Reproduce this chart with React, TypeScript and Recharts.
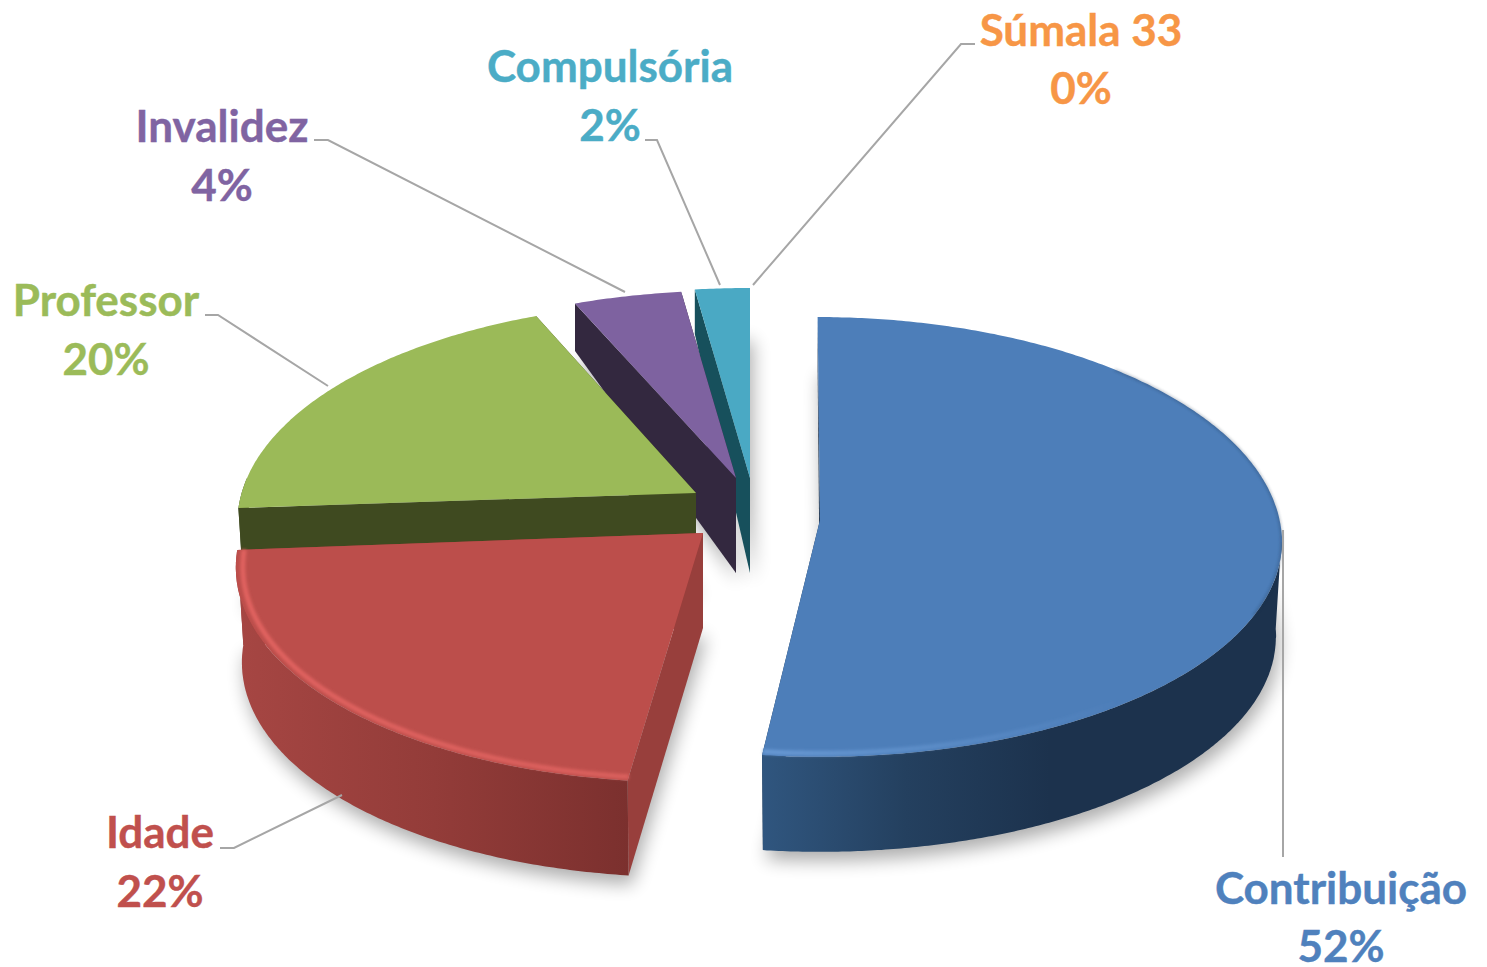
import React from "react";
import { PieChart, Pie } from "recharts";

// ---- data (reversed so far slices paint first; angles run counter-clockwise from the top)
const categories = ["Súmala 33", "Compulsória", "Invalidez", "Professor", "Idade", "Contribuição"];
const shares = [0, 2, 4, 20, 22, 52];
const chartData = categories.map((name, i) => ({ name, value: shares[i] }));

// ---- styles and layout
const W = 1487, H = 967, CX = 750, CY = 500, R = 460;
const RAD = Math.PI / 180;

type Look = {
  ox: number; oy: number; yo: number; rx: number; ryU: number; ryD: number; skU: number; skD: number;
  warpA: number; warpB: number;
  top: string; side: string; wallA: string; wallM: string; wallB: string; text: string;
};
const looks: Record<string, Look> = {
  "Contribuição": { ox: 70, oy: 20, yo: 22, rx: 1.004, ryU: 0.489, ryD: 0.467, skU: 0.012, skD: 0, warpA: 0, warpB: 0, top: "#4d7eb9", side: "#1c324d", wallA: "#30567f", wallM: "#24405f", wallB: "#1c324d", text: "#4f81bd" },
  "Idade": { ox: -47, oy: 33, yo: 27, rx: 1.011, ryU: 0.483, ryD: 0.483, skU: -0.069, skD: -0.069, warpA: -6.2, warpB: 0, top: "#bc4e4b", side: "#983f3c", wallA: "#a64643", wallM: "#933c39", wallB: "#7b302e", text: "#c0504d" },
  "Professor": { ox: -54, oy: -7, yo: 30, rx: 0.997, ryU: 0.48, ryD: 0.48, skU: 0, skD: 0, warpA: -1.2, warpB: -7.5, top: "#9bba58", side: "#3f4a20", wallA: "#3f4a20", wallM: "#3f4a20", wallB: "#3f4a20", text: "#9bbb59" },
  "Invalidez": { ox: -14, oy: -22, yo: 0, rx: 0.951, ryU: 0.408, ryD: 0.5, skU: 0, skD: 0, warpA: 0, warpB: 0, top: "#7e62a0", side: "#33283f", wallA: "#33283f", wallM: "#33283f", wallB: "#33283f", text: "#8064a2" },
  "Compulsória": { ox: 0, oy: -22, yo: 0, rx: 0.957, ryU: 0.413, ryD: 0.5, skU: 0, skD: 0, warpA: 0, warpB: 0, top: "#4aa9c4", side: "#17505c", wallA: "#17505c", wallM: "#17505c", wallB: "#17505c", text: "#4bacc6" },
  "Súmala 33": { ox: 0, oy: 0, yo: 0, rx: 1, ryU: 0.4, ryD: 0.5, skU: 0, skD: 0, warpA: 0, warpB: 0, top: "#f79646", side: "#f79646", wallA: "#f79646", wallM: "#f79646", wallB: "#f79646", text: "#f79646" },
};
const DEPTH_FRONT = 95, DEPTH_BACK = 44, FLOOR_SHRINK = 0.987;

const labelSpots: Record<string, { x: number; y1: number; y2: number; leader: string }> = {
  "Contribuição": { x: 1341, y1: 904, y2: 962, leader: "1283,530 1283,857" },
  "Idade": { x: 160, y1: 848, y2: 907, leader: "342,795 234,848 220,848" },
  "Professor": { x: 106, y1: 316, y2: 375, leader: "328,386 218,315 205,315" },
  "Invalidez": { x: 222, y1: 142, y2: 201, leader: "625,292 328,140 314,140" },
  "Compulsória": { x: 610, y1: 82, y2: 141, leader: "720,285 657,140 645,140" },
  "Súmala 33": { x: 1081, y1: 46, y2: 104, leader: "753,285 961,44 975,44" },
};

type Pt = { x: number; y: number; depth: number; front: boolean };

function makeProjector(l: Look, cx: number, cy: number, R0: number, start: number, end: number) {
  const ax = cx + l.ox, ay = cy + l.oy;
  const warp = (a: number) => a + l.warpA + ((l.warpB - l.warpA) * (a - start)) / (end - start);
  const at = (angle: number, r = 1): Pt => {
    const w = warp(angle) * RAD;
    const s = Math.cos(w), c = Math.sin(w);
    const up = c > 0;
    const dy = l.yo * r - R0 * r * c * (up ? l.ryU : l.ryD);
    const x = ax + R0 * r * s * l.rx + (up ? l.skU : l.skD) * dy;
    const depth = up ? DEPTH_FRONT - (DEPTH_FRONT - DEPTH_BACK) * Math.max(0, c - l.yo / 200) * r : DEPTH_FRONT;
    return { x, y: ay + dy, depth, front: !up || l.yo > 0 };
  };
  const apex = at(start, 0);
  const down = (p: Pt) => {
    const k = p.front ? FLOOR_SHRINK : 1;
    return { x: apex.x + (p.x - apex.x) * k, y: p.y + p.depth, depth: p.depth, front: p.front };
  };
  return { at, apex, down };
}
const arcAngles = (a: number, b: number) => {
  const out: number[] = [];
  const n = Math.max(2, Math.ceil(Math.abs(b - a) * 2));
  for (let i = 0; i <= n; i++) out.push(a + ((b - a) * i) / n);
  return out;
};
const toPath = (pts: { x: number; y: number }[], close = true) =>
  "M" + pts.map((p) => `${p.x.toFixed(1)},${p.y.toFixed(1)}`).join("L") + (close ? "Z" : "");

function shadowShape(props: any) {
  const { cx, cy, outerRadius, startAngle, endAngle, name } = props;
  if (endAngle === startAngle) return <g />;
  const { at, apex, down } = makeProjector(looks[name], cx, cy, outerRadius, startAngle, endAngle);
  const pts = [down(apex), ...arcAngles(startAngle, endAngle).map((a) => down(at(a)))];
  return <path d={toPath(pts)} fill="#000" opacity={0.32} filter="url(#pieShadow)" transform="translate(3,9)" />;
}

function sliceShape(props: any) {
  const { cx, cy, outerRadius, startAngle, endAngle, name } = props;
  if (endAngle === startAngle) return <g />;
  const l = looks[name];
  const { at, apex, down } = makeProjector(l, cx, cy, outerRadius, startAngle, endAngle);
  const arc = arcAngles(startAngle, endAngle).map((a) => at(a));
  const s = at(startAngle), e = at(endAngle);
  // The outer wall shows only on the front half of the pie
  const wallFrom = Math.max(startAngle, 175), wallTo = Math.min(endAngle, 362);
  const isBlue = name === "Contribuição", isRed = name === "Idade";
  const wall = wallTo > wallFrom ? arcAngles(wallFrom, wallTo).map((a) => at(a)) : [];
  const wallD = wall.length ? toPath([...wall, ...[...wall].reverse().map(down)]) : "";
  const rim = (isBlue || isRed) && wall.length ? toPath(arcAngles(wallFrom, wallTo).map((a) => at(a, 0.985)), false) : "";
  const gid = "wall" + name.replace(/[^A-Za-z]/g, "");
  const x0 = isBlue ? 762 : 238, x1 = isBlue ? 1050 : 630;
  return (
    <g>
      <defs>
        <linearGradient id={gid} gradientUnits="userSpaceOnUse" x1={x0} y1="0" x2={x1} y2="0">
          <stop offset="0%" stopColor={l.wallA} />
          <stop offset="50%" stopColor={l.wallM} />
          <stop offset="100%" stopColor={l.wallB} />
        </linearGradient>
        <linearGradient id={gid + "Rim"} gradientUnits="userSpaceOnUse" x1={isBlue ? 762 : 238} y1="0" x2={isBlue ? 1120 : 630} y2="0">
          <stop offset="0%" stopColor={isBlue ? "#6a9bd6" : "#e0625f"} stopOpacity={isBlue ? 0.9 : 1} />
          <stop offset="100%" stopColor={isBlue ? "#6a9bd6" : "#dc615e"} stopOpacity={isBlue ? 0 : 0.9} />
        </linearGradient>
      </defs>
      <path d={toPath([apex, s, down(s), down(apex)])} fill={l.side} />
      <path d={toPath([apex, e, down(e), down(apex)])} fill={l.side} />
      {wallD && <path d={wallD} fill={`url(#${gid})`} />}
      <path d={toPath([apex, ...arc])} fill={l.top} />
      {isBlue && (
        <path d={toPath(arcAngles(340, 410).map((a) => at(a, 0.999)), false)} fill="none" stroke="#1c324d" strokeWidth={1.4} opacity={0.5} filter="url(#rimBlur)" />
      )}
      {rim && <path d={rim} fill="none" stroke={`url(#${gid}Rim)`} strokeWidth={5} filter="url(#rimBlur)" />}
    </g>
  );
}

function sliceLabel(props: any) {
  const { name, value } = props;
  const spot = labelSpots[name];
  const l = looks[name];
  const common = { textAnchor: "middle" as const, fill: l.text, stroke: l.text, strokeWidth: 0.4, fontFamily: "Lato", fontWeight: 700, fontSize: 44 };
  return (
    <g>
      <polyline points={spot.leader} fill="none" stroke="#a6a6a6" strokeWidth={2} />
      <text x={spot.x} y={spot.y1} {...common}>{name}</text>
      <text x={spot.x} y={spot.y2} {...common}>{`${value}%`}</text>
    </g>
  );
}

export default function App() {
  return (
    <div style={{ position: "absolute", left: 0, top: 0, width: W, height: H, background: "#fff" }}>
      <PieChart width={W} height={H} margin={{ top: 0, right: 0, bottom: 0, left: 0 }}>
        <defs>
          <filter id="pieShadow" x="-40%" y="-40%" width="180%" height="180%">
            <feGaussianBlur stdDeviation="9" />
          </filter>
          <filter id="rimBlur" filterUnits="userSpaceOnUse" x="0" y="0" width="1487" height="967">
            <feGaussianBlur stdDeviation="1.6" />
          </filter>
        </defs>
        <Pie data={chartData} dataKey="value" nameKey="name" cx={CX} cy={CY} innerRadius={0} outerRadius={R}
          startAngle={90} endAngle={450} stroke="none" isAnimationActive={false} legendType="none"
          shape={shadowShape} label={false} labelLine={false} />
        <Pie data={chartData} dataKey="value" nameKey="name" cx={CX} cy={CY} innerRadius={0} outerRadius={R}
          startAngle={90} endAngle={450} stroke="none" isAnimationActive={false}
          shape={sliceShape} label={sliceLabel} labelLine={false} />
      </PieChart>
    </div>
  );
}
